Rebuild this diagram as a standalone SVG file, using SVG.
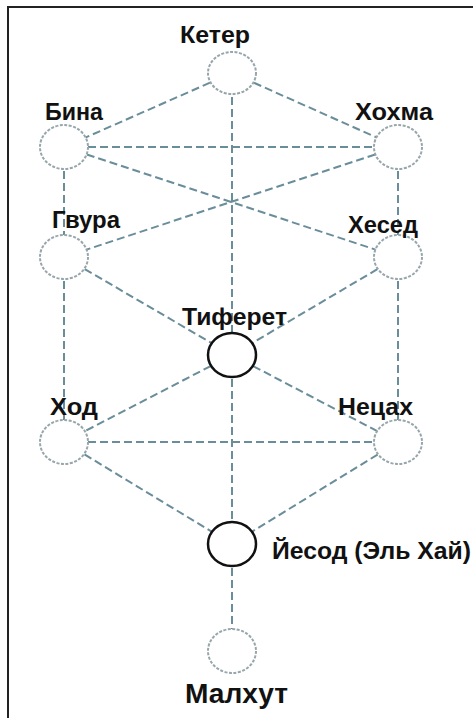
<svg xmlns="http://www.w3.org/2000/svg" width="473" height="718" viewBox="0 0 473 718">
<style>
.edge{stroke:#6a8d9a;stroke-width:2;stroke-dasharray:8 4;fill:none}
.soft{fill:#fff;stroke:#97a6ab;stroke-width:2;stroke-dasharray:3 1.5}
.hard{fill:#fff;stroke:#111;stroke-width:2.5}
.lbl{font-family:"Liberation Sans",Arial,sans-serif;font-weight:bold;font-size:24px;fill:#111}
</style>
<rect width="473" height="718" fill="#fff"/>
<path d="M8,718 V7 H473" fill="none" stroke="#222" stroke-width="2"/>
<g id="connectors">
<line class="edge" x1="232" y1="73" x2="64" y2="147"/>
<line class="edge" x1="232" y1="73" x2="398" y2="147"/>
<line class="edge" x1="232" y1="73" x2="232" y2="355"/>
<line class="edge" x1="64" y1="147" x2="398" y2="147"/>
<line class="edge" x1="64" y1="147" x2="398" y2="257"/>
<line class="edge" x1="398" y1="147" x2="64" y2="257"/>
<line class="edge" x1="64" y1="147" x2="64" y2="257"/>
<line class="edge" x1="398" y1="147" x2="398" y2="257"/>
<line class="edge" x1="64" y1="257" x2="232" y2="355"/>
<line class="edge" x1="398" y1="257" x2="232" y2="355"/>
<line class="edge" x1="64" y1="257" x2="64" y2="442"/>
<line class="edge" x1="398" y1="257" x2="398" y2="442"/>
<line class="edge" x1="232" y1="355" x2="64" y2="442"/>
<line class="edge" x1="232" y1="355" x2="398" y2="442"/>
<line class="edge" x1="64" y1="442" x2="398" y2="442"/>
<line class="edge" x1="232" y1="355" x2="232" y2="544"/>
<line class="edge" x1="64" y1="442" x2="232" y2="544"/>
<line class="edge" x1="398" y1="442" x2="232" y2="544"/>
<line class="edge" x1="232" y1="544" x2="232" y2="651"/>
</g>
<g id="keter"><ellipse class="soft" cx="232" cy="73" rx="24" ry="21"/><text class="lbl" x="180" y="43" textLength="70" lengthAdjust="spacingAndGlyphs">Кетер</text></g>
<g id="bina"><ellipse class="soft" cx="64" cy="147" rx="24" ry="22"/><text class="lbl" x="45" y="120" textLength="58" lengthAdjust="spacingAndGlyphs">Бина</text></g>
<g id="hokhma"><ellipse class="soft" cx="398" cy="147" rx="24" ry="22"/><text class="lbl" x="355" y="120" textLength="78" lengthAdjust="spacingAndGlyphs">Хохма</text></g>
<g id="gevura"><ellipse class="soft" cx="64" cy="257" rx="24" ry="22"/><text class="lbl" x="52" y="228" textLength="68" lengthAdjust="spacingAndGlyphs">Гвура</text></g>
<g id="hesed"><ellipse class="soft" cx="398" cy="257" rx="24" ry="22"/><text class="lbl" x="348" y="233" textLength="70" lengthAdjust="spacingAndGlyphs">Хесед</text></g>
<g id="tiferet"><ellipse class="hard" cx="232" cy="355" rx="24" ry="22"/><text class="lbl" x="182" y="325" textLength="105" lengthAdjust="spacingAndGlyphs">Тиферет</text></g>
<g id="hod"><ellipse class="soft" cx="64" cy="442" rx="24" ry="22"/><text class="lbl" x="50" y="415" textLength="48" lengthAdjust="spacingAndGlyphs">Ход</text></g>
<g id="netzach"><ellipse class="soft" cx="398" cy="442" rx="24" ry="22"/><text class="lbl" x="338" y="415" textLength="75" lengthAdjust="spacingAndGlyphs">Нецах</text></g>
<g id="yesod"><ellipse class="hard" cx="232" cy="544" rx="24" ry="22"/><text class="lbl" x="272" y="559" textLength="199" lengthAdjust="spacingAndGlyphs">Йесод (Эль Хай)</text></g>
<g id="malkhut"><ellipse class="soft" cx="232" cy="651" rx="24" ry="22"/><text class="lbl" x="185" y="703" textLength="103" lengthAdjust="spacingAndGlyphs" style="font-size:28px">Малхут</text></g>
</svg>
